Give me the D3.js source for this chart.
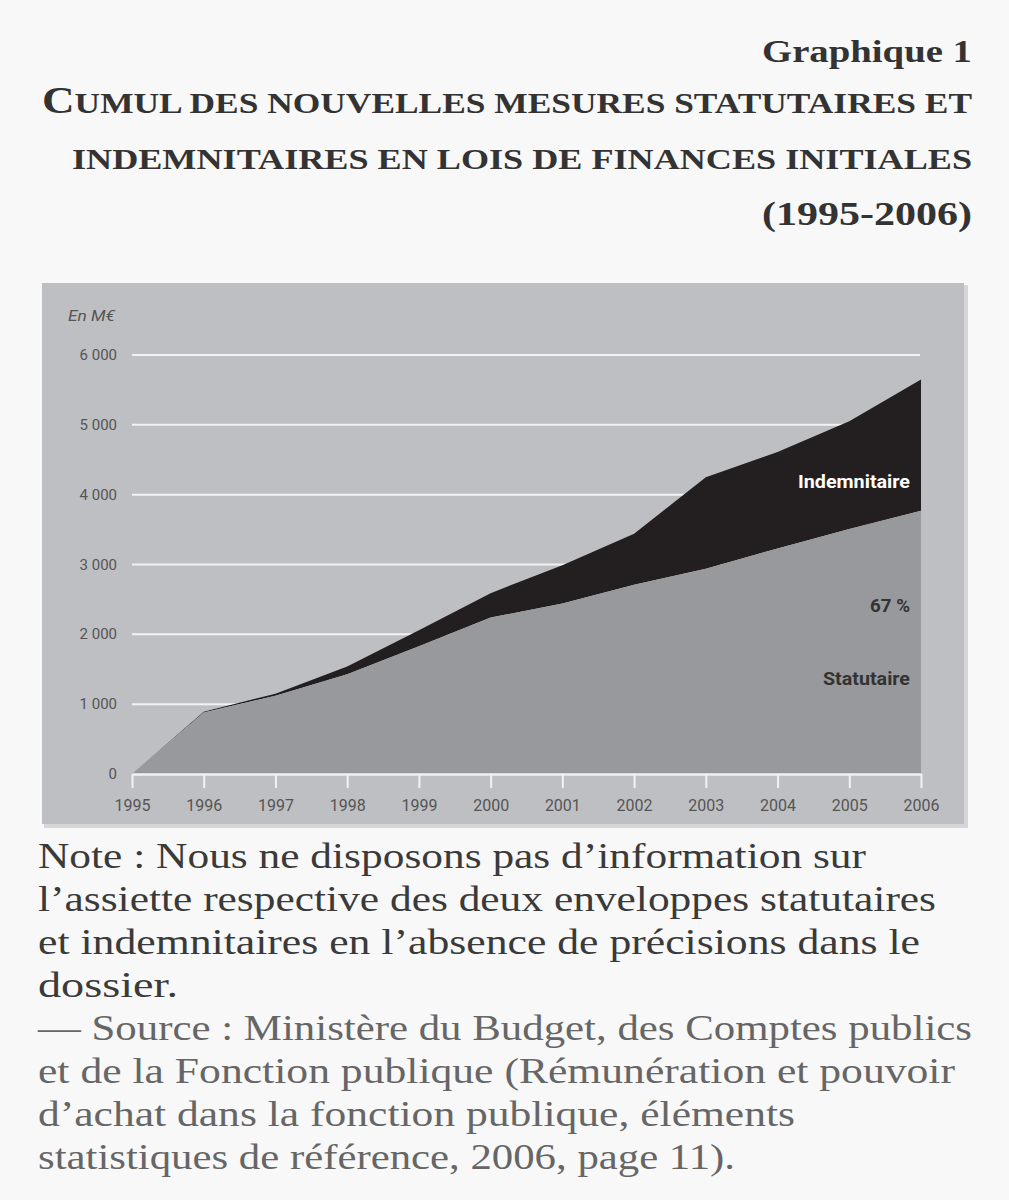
<!DOCTYPE html>
<html>
<head>
<meta charset="utf-8">
<script src="https://cdn.jsdelivr.net/npm/d3@7"></script>
<style>
  body { margin: 0; background: #f8f8f8; }
  svg { display: block; }
</style>
</head>
<body>
<svg id="chart" width="1009" height="1200"></svg>
<script>
"use strict";

// data (M€, cumulative)
const years = [1995, 1996, 1997, 1998, 1999, 2000, 2001, 2002, 2003, 2004, 2005, 2006];
const statutaire = [0, 880, 1120, 1430, 1830, 2240, 2440, 2710, 2940, 3230, 3510, 3770];
const totalCumul = [0, 890, 1150, 1540, 2060, 2590, 2990, 3440, 4250, 4610, 5050, 5650];
const yTicks = [0, 1000, 2000, 3000, 4000, 5000, 6000];

const titleLines = [
  "Cumul des nouvelles mesures statutaires et",
  "indemnitaires en lois de finances initiales",
  "(1995-2006)"
];
const noteLines = [
  "Note : Nous ne disposons pas d\u2019information sur",
  "l\u2019assiette respective des deux enveloppes statutaires",
  "et indemnitaires en l\u2019absence de précisions dans le",
  "dossier."
];
const sourceLines = [
  "\u2014 Source : Ministère du Budget, des Comptes publics",
  "et de la Fonction publique (Rémunération et pouvoir",
  "d\u2019achat dans la fonction publique, éléments",
  "statistiques de référence, 2006, page 11)."
];

const serif = "'Liberation Serif', 'DejaVu Serif', serif";
const sans = "'Liberation Sans Narrow', 'Roboto', 'Liberation Sans', sans-serif";

const svg = d3.select("#chart");

// ---- title block
svg.append("text")
  .attr("x", 972).attr("y", 62)
  .attr("text-anchor", "end")
  .attr("font-family", serif).attr("font-weight", "bold")
  .attr("font-size", 31).attr("fill", "#333")
  .attr("textLength", 210).attr("lengthAdjust", "spacingAndGlyphs")
  .text("Graphique 1");

// hand made small caps: real capitals big, the rest uppercase smaller
const titleW = [930, 900, 210];
const titles = svg.selectAll("text.title")
  .data(titleLines)
  .join("text")
    .attr("class", "title")
    .attr("x", 972)
    .attr("y", (d, i) => 113 + i * 56)
    .attr("text-anchor", "end")
    .attr("font-family", serif).attr("font-weight", "bold")
    .attr("fill", "#333")
    .attr("textLength", (d, i) => titleW[i])
    .attr("lengthAdjust", "spacingAndGlyphs");
titles.each(function(d, i) {
  const t = d3.select(this);
  if (i === 2) {
    t.attr("font-size", 33).text(d);
    return;
  }
  if (i === 0) {
    t.append("tspan").attr("font-size", 37).text(d[0]);
    t.append("tspan").attr("font-size", 29).text(d.slice(1).toUpperCase());
  } else {
    t.append("tspan").attr("font-size", 29).text(d.toUpperCase());
  }
});

// ---- chart panel
svg.append("rect")
  .attr("x", 44).attr("y", 285).attr("width", 924).attr("height", 543)
  .attr("fill", "#d6d6d8");
svg.append("rect")
  .attr("x", 42).attr("y", 283).attr("width", 922).attr("height", 541)
  .attr("fill", "#bebfc2");

const x = d3.scaleLinear().domain([1995, 2006]).range([132, 921]);
const y = d3.scaleLinear().domain([0, 6000]).range([774, 355]);

// gridlines
svg.append("g")
  .selectAll("line")
  .data(yTicks.filter(d => d > 0))
  .join("line")
    .attr("x1", 132).attr("x2", 920)
    .attr("y1", d => y(d)).attr("y2", d => y(d))
    .attr("stroke", "#f2f2f2").attr("stroke-width", 2);

const rows = years.map((yr, i) => ({year: yr, stat: statutaire[i], total: totalCumul[i]}));

const areaTotal = d3.area()
  .x(d => x(d.year))
  .y0(d => y(d.stat))
  .y1(d => y(d.total));
const areaStat = d3.area()
  .x(d => x(d.year))
  .y0(y(0))
  .y1(d => y(d.stat));

svg.append("path").datum(rows).attr("d", areaTotal).attr("fill", "#231f20");
svg.append("path").datum(rows).attr("d", areaStat).attr("fill", "#98999c");

// y labels
svg.append("g")
  .selectAll("text")
  .data(yTicks)
  .join("text")
    .attr("x", 117)
    .attr("y", d => y(d) + 5)
    .attr("text-anchor", "end")
    .attr("font-family", sans).attr("font-size", 15)
    .attr("fill", "#555")
    .text(d => d === 0 ? "0" : d3.format(",")(d).replace(",", " "));

svg.append("text")
  .attr("x", 68).attr("y", 321)
  .attr("font-family", sans).attr("font-size", 15)
  .attr("font-style", "italic").attr("fill", "#555")
  .attr("textLength", 47).attr("lengthAdjust", "spacingAndGlyphs")
  .text("En M\u20ac");

// x axis
const xAxis = svg.append("g")
  .attr("transform", `translate(0, ${774})`)
  .call(d3.axisBottom(x).tickValues(years).tickFormat(d3.format("d")).tickSize(14).tickSizeOuter(0));
xAxis.select(".domain").attr("stroke", "#f2f2f2").attr("stroke-width", 2.5);
xAxis.selectAll(".tick line").attr("stroke", "#f2f2f2").attr("stroke-width", 2);
xAxis.selectAll(".tick text")
  .attr("y", 26)
  .attr("font-family", sans).attr("font-size", 16)
  .attr("fill", "#555");

// series labels
const labels = [
  {text: "Indemnitaire", y: 488, w: 112, color: "#fff"},
  {text: "67 %", y: 612, w: 40, color: "#333"},
  {text: "Statutaire", y: 685, w: 87, color: "#333"}
];
svg.append("g")
  .selectAll("text")
  .data(labels)
  .join("text")
    .attr("x", 910)
    .attr("y", d => d.y)
    .attr("text-anchor", "end")
    .attr("font-family", sans).attr("font-weight", "bold").attr("font-size", 17.5)
    .attr("fill", d => d.color)
    .attr("textLength", d => d.w).attr("lengthAdjust", "spacingAndGlyphs")
    .text(d => d.text);

// ---- note and source
const noteW = [828, 898, 882, 140];
const sourceW = [934, 917, 757, 697];
svg.selectAll("text.note")
  .data(noteLines)
  .join("text")
    .attr("class", "note")
    .attr("x", 38)
    .attr("y", (d, i) => 868 + i * 43)
    .attr("font-family", serif).attr("font-size", 36)
    .attr("fill", "#3a3a3a")
    .attr("textLength", (d, i) => noteW[i])
    .attr("lengthAdjust", "spacingAndGlyphs")
    .text(d => d);
svg.selectAll("text.source")
  .data(sourceLines)
  .join("text")
    .attr("class", "source")
    .attr("x", 38)
    .attr("y", (d, i) => 1040 + i * 43)
    .attr("font-family", serif).attr("font-size", 36)
    .attr("fill", "#666")
    .attr("textLength", (d, i) => sourceW[i])
    .attr("lengthAdjust", "spacingAndGlyphs")
    .text(d => d);
</script>
</body>
</html>
